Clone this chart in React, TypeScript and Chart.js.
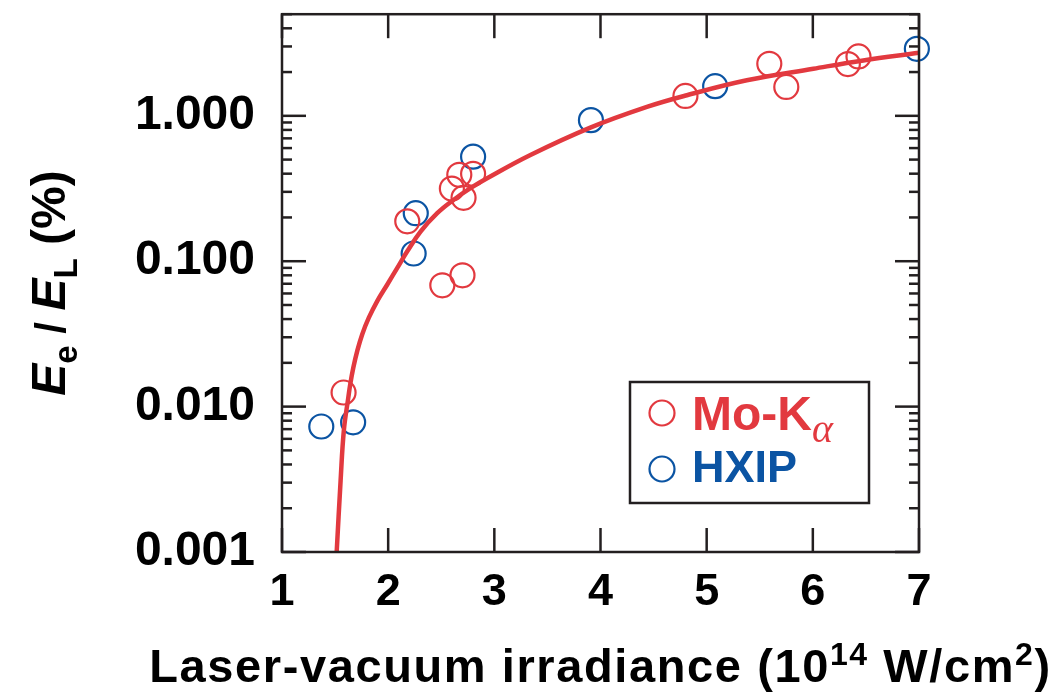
import React, { useEffect, useRef } from 'react';
import { Chart, registerables } from 'chart.js';
Chart.register(...registerables);

// ---- data ----
const moKaX = [1.58, 2.18, 2.51, 2.60, 2.67, 2.70, 2.71, 2.80, 4.80, 5.59, 5.75, 6.33, 6.43];
const moKaY = [0.0125, 0.188, 0.0683, 0.316, 0.393, 0.080, 0.273, 0.399, 1.37, 2.28, 1.58, 2.27, 2.56];
const hxipX = [1.37, 1.67, 2.24, 2.26, 2.80, 3.91, 5.08, 6.98];
const hxipY = [0.0073, 0.0078, 0.113, 0.214, 0.524, 0.934, 1.60, 2.89];
const fitX = [1.515, 1.552, 1.583, 1.625, 1.643, 1.672, 1.709, 1.756, 1.818, 1.897, 1.992, 2.086, 2.180, 2.305, 2.462, 2.618, 2.775, 2.932, 3.34, 3.904, 4.437, 4.814, 5.378, 6.005, 6.475, 7.0];
const fitY = [0.001, 0.0031, 0.0069, 0.0116, 0.0143, 0.0186, 0.0242, 0.0315, 0.0409, 0.0532, 0.0692, 0.090, 0.117, 0.160, 0.214, 0.265, 0.318, 0.372, 0.538, 0.83, 1.152, 1.386, 1.756, 2.109, 2.405, 2.714];

const yMajorValues = [0.001, 0.01, 0.1, 1];
const yMajorLabels = ['0.001', '0.010', '0.100', '1.000'];
const yMinorMultipliers = [2, 3, 4, 5, 6, 7, 8, 9];
const xTickValues = [1, 2, 3, 4, 5, 6, 7];
const seriesLabels = ['Mo-K', 'HXIP'];

const RED = '#e2393f';
const BLUE = '#0b54a3';
const AXIS = '#231f20';
const SANS = '"Liberation Sans", Arial, Helvetica, sans-serif';

type Seg = { text: string; font: string; dy?: number; color?: string };

function drawRich(ctx: CanvasRenderingContext2D, segs: Seg[], x: number, y: number, align: 'left' | 'center') {
  ctx.textBaseline = 'alphabetic';
  ctx.textAlign = 'left';
  let total = 0;
  const widths = segs.map((s) => {
    ctx.font = s.font;
    const w = ctx.measureText(s.text).width;
    total += w;
    return w;
  });
  let cx = align === 'center' ? x - total / 2 : x;
  segs.forEach((s, i) => {
    ctx.font = s.font;
    if (s.color) ctx.fillStyle = s.color;
    ctx.fillText(s.text, cx, y + (s.dy || 0));
    cx += widths[i];
  });
}

const framePlugin = {
  id: 'frame',
  afterDraw(chart: any) {
    const { ctx, chartArea } = chart;
    const { left, right, top, bottom } = chartArea;
    const xs = chart.scales.x;
    const ys = chart.scales.y;
    ctx.save();
    ctx.strokeStyle = AXIS;
    ctx.lineWidth = 2.5;
    ctx.lineCap = 'butt';
    ctx.strokeRect(left, top, right - left, bottom - top);
    const line = (x1: number, y1: number, x2: number, y2: number) => {
      ctx.beginPath();
      ctx.moveTo(x1, y1);
      ctx.lineTo(x2, y2);
      ctx.stroke();
    };
    xs.ticks.forEach((t: any) => {
      const px = xs.getPixelForValue(t.value);
      line(px, bottom, px, bottom - 24);
      line(px, top, px, top + 24);
    });
    ys.ticks.forEach((t: any) => {
      const py = ys.getPixelForValue(t.value);
      const major = yMajorValues.some((v) => Math.abs(v - t.value) / v < 1e-6);
      const len = major ? 24 : 10;
      line(left, py, left + len, py);
      line(right, py, right - len, py);
    });

    // axis titles
    ctx.fillStyle = '#000';
    const cxTitle = (left + right) / 2;
    (ctx as any).letterSpacing = '1.6px';
    drawRich(ctx, [
      { text: 'Laser-vacuum irradiance (10', font: `bold 47px ${SANS}` },
      { text: '14', font: `bold 32px ${SANS}`, dy: -17 },
      { text: ' W/cm', font: `bold 47px ${SANS}` },
      { text: '2', font: `bold 32px ${SANS}`, dy: -17 },
      { text: ')', font: `bold 47px ${SANS}` },
    ], cxTitle, 682, 'center');
    (ctx as any).letterSpacing = '0px';

    ctx.save();
    ctx.translate(65, (top + bottom) / 2);
    ctx.rotate(-Math.PI / 2);
    drawRich(ctx, [
      { text: 'E', font: `italic bold 48px ${SANS}` },
      { text: 'e', font: `bold 33px ${SANS}`, dy: 12 },
      { text: ' / ', font: `bold 42px ${SANS}` },
      { text: 'E', font: `italic bold 48px ${SANS}` },
      { text: 'L', font: `bold 33px ${SANS}`, dy: 12 },
      { text: ' (%)', font: `bold 48px ${SANS}` },
    ], 0, 0, 'center');
    ctx.restore();

    // legend
    const bx = right - 289;
    const by = bottom - 170;
    const bw = 239;
    const bh = 121;
    ctx.fillStyle = '#fff';
    ctx.fillRect(bx, by, bw, bh);
    ctx.strokeStyle = AXIS;
    ctx.lineWidth = 2.5;
    ctx.strokeRect(bx, by, bw, bh);
    ctx.lineWidth = 2.2;
    ctx.strokeStyle = RED;
    ctx.beginPath();
    ctx.arc(bx + 32, by + 31, 12.5, 0, Math.PI * 2);
    ctx.stroke();
    ctx.strokeStyle = BLUE;
    ctx.beginPath();
    ctx.arc(bx + 32, by + 87, 12.5, 0, Math.PI * 2);
    ctx.stroke();
    drawRich(ctx, [
      { text: seriesLabels[0], font: `bold 48px ${SANS}`, color: RED },
      { text: 'α', font: `italic 40px "Liberation Serif", "DejaVu Serif", serif`, dy: 12, color: RED },
    ], bx + 62, by + 48, 'left');
    drawRich(ctx, [
      { text: seriesLabels[1], font: `bold 45px ${SANS}`, color: BLUE },
    ], bx + 62, by + 100, 'left');
    ctx.restore();
  },
};

export default function App() {
  const ref = useRef<HTMLCanvasElement | null>(null);
  useEffect(() => {
    if (!ref.current) return;
    const chart = new Chart(ref.current, {
      type: 'scatter',
      data: {
        datasets: [
          {
            label: 'fit',
            data: fitX.map((x, i) => ({ x, y: fitY[i] })),
            showLine: true,
            borderColor: RED,
            borderWidth: 4.5,
            pointRadius: 0,
            tension: 0.4,
            borderJoinStyle: 'round',
            clip: false as any,
          },
          {
            label: seriesLabels[0],
            data: moKaX.map((x, i) => ({ x, y: moKaY[i] })),
            pointRadius: 12,
            pointBorderWidth: 2.2,
            borderColor: RED,
            pointBorderColor: RED,
            backgroundColor: 'rgba(0,0,0,0)',
            pointBackgroundColor: 'rgba(0,0,0,0)',
            clip: false as any,
          },
          {
            label: seriesLabels[1],
            data: hxipX.map((x, i) => ({ x, y: hxipY[i] })),
            pointRadius: 12,
            pointBorderWidth: 2.2,
            borderColor: BLUE,
            pointBorderColor: BLUE,
            backgroundColor: 'rgba(0,0,0,0)',
            pointBackgroundColor: 'rgba(0,0,0,0)',
            clip: false as any,
          },
        ],
      },
      options: {
        animation: false,
        responsive: false,
        maintainAspectRatio: false,
        layout: { padding: { top: 12, right: 142, left: 0, bottom: 0 } },
        plugins: { legend: { display: false }, tooltip: { enabled: false } },
        scales: {
          x: {
            type: 'linear',
            min: 1,
            max: 7,
            grid: { display: false, drawTicks: false },
            border: { display: false },
            afterBuildTicks: (scale: any) => {
              scale.ticks = xTickValues.map((v) => ({ value: v }));
            },
            afterFit: (scale: any) => {
              scale.height = 140;
              scale.paddingLeft = 0;
              scale.paddingRight = 0;
            },
            ticks: {
              autoSkip: false,
              maxRotation: 0,
              padding: 14,
              color: '#000',
              font: { family: SANS, weight: 'bold', size: 45 },
              callback: (v: any) => String(v),
            },
          },
          y: {
            type: 'logarithmic',
            min: 0.001,
            max: 5,
            grid: { display: false, drawTicks: false },
            border: { display: false },
            afterBuildTicks: (scale: any) => {
              const vals: number[] = [];
              yMajorValues.forEach((d) => {
                vals.push(d);
                yMinorMultipliers.forEach((m) => {
                  const v = m * d;
                  if (v <= 5.0001) vals.push(v);
                });
              });
              scale.ticks = vals.map((v) => ({ value: v }));
            },
            afterFit: (scale: any) => {
              scale.width = 282;
              scale.paddingTop = 0;
              scale.paddingBottom = 0;
            },
            ticks: {
              autoSkip: false,
              padding: 27,
              color: '#000',
              font: { family: SANS, weight: 'bold', size: 48 },
              callback: (v: any) => {
                const idx = yMajorValues.findIndex((m) => Math.abs(m - v) / m < 1e-6);
                return idx >= 0 ? yMajorLabels[idx] : '';
              },
            },
          },
        },
      },
      plugins: [framePlugin],
    } as any);
    return () => chart.destroy();
  }, []);
  return (
    <div style={{ position: 'fixed', left: 0, top: 0, width: 1061, height: 692, background: '#fff' }}>
      <canvas ref={ref} width={1061} height={692} style={{ display: 'block' }} />
    </div>
  );
}
